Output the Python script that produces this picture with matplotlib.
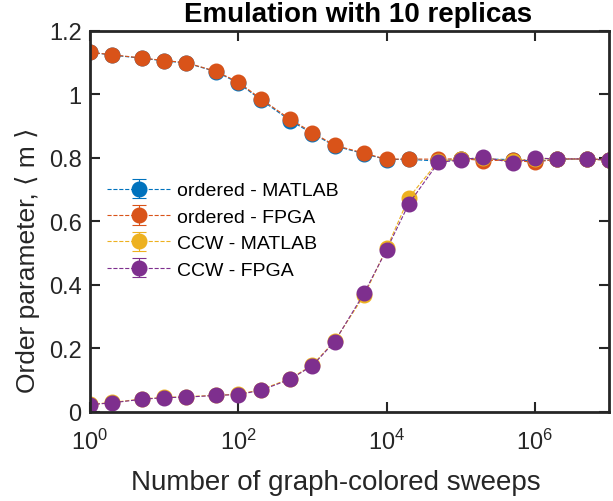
import numpy as np
import matplotlib.pyplot as plt

plt.rcParams['font.family'] = ['Liberation Sans', 'DejaVu Sans']

# numero de barridos
sweeps = [1, 2, 5, 10, 20, 50, 100, 200, 500, 1e3, 2e3, 5e3, 1e4, 2e4,
          5e4, 1e5, 2e5, 5e5, 1e6, 2e6, 5e6, 1e7]

ord_matlab = [1.133, 1.124, 1.114, 1.106, 1.099, 1.072, 1.036, 0.984, 0.918, 0.877, 0.838,
              0.813, 0.795, 0.796, 0.790, 0.797, 0.797, 0.795, 0.790, 0.796, 0.797, 0.794]
ord_fpga = [1.133, 1.125, 1.115, 1.107, 1.100, 1.073, 1.039, 0.987, 0.922, 0.880, 0.840,
            0.815, 0.796, 0.797, 0.796, 0.798, 0.792, 0.793, 0.786, 0.797, 0.797, 0.795]
ccw_matlab = [0.024, 0.030, 0.041, 0.046, 0.048, 0.053, 0.056, 0.070, 0.105, 0.148, 0.224,
              0.368, 0.515, 0.675, 0.790, 0.796, 0.800, 0.790, 0.798, 0.797, 0.796, 0.793]
ccw_fpga = [0.023, 0.029, 0.040, 0.045, 0.047, 0.052, 0.055, 0.068, 0.103, 0.146, 0.222,
            0.375, 0.511, 0.656, 0.786, 0.794, 0.803, 0.785, 0.800, 0.797, 0.797, 0.793]

err_ord = [0.004]*len(sweeps)
err_ccw = [0.006]*len(sweeps)

series = [
    (ord_matlab, err_ord, '#0072BD', 'ordered - MATLAB'),
    (ord_fpga, err_ord, '#D95319', 'ordered - FPGA'),
    (ccw_matlab, err_ccw, '#EDB120', 'CCW - MATLAB'),
    (ccw_fpga, err_ccw, '#7E2F8E', 'CCW - FPGA'),
]

fig = plt.figure(figsize=(6.13, 5.02), dpi=100)
ax = fig.add_axes([0.1468, 0.1773, 0.8467, 0.759])

for y, e, c, lab in series:
    ax.errorbar(sweeps, y, yerr=e, fmt='o--', color=c, markersize=10.5,
                linewidth=0.8, elinewidth=0.8, capsize=5, capthick=0.8,
                markeredgecolor=c, label=lab)

ax.set_xscale('log')
ax.set_xlim(1, 1e7)
ax.set_ylim(0, 1.2)
ax.set_xticks([1, 1e2, 1e4, 1e6])
ax.set_yticks([0, 0.2, 0.4, 0.6, 0.8, 1.0, 1.2])
ax.set_yticklabels(['0', '0.2', '0.4', '0.6', '0.8', '1', '1.2'])

for s in ax.spines.values():
    s.set_linewidth(2)
    s.set_color('#262626')
ax.tick_params(which='both', direction='in', top=True, right=True,
               colors='#262626', labelsize=17, width=1.5)
ax.tick_params(which='major', length=7)
ax.tick_params(which='minor', length=4)
ax.tick_params(axis='x', pad=12)
ax.tick_params(axis='y', pad=6)

ax.set_xlabel('Number of graph-colored sweeps', fontsize=20, color='#262626')
ax.xaxis.set_label_coords(0.474, -0.149)
ax.set_ylabel('Order parameter, \u27e8 m \u27e9', fontsize=19, color='#262626',
              family=['Liberation Sans', 'DejaVu Sans'])
ax.yaxis.set_label_coords(-0.097, 0.40)
ax.set_title('Emulation with 10 replicas', fontsize=20, fontweight='bold',
             x=0.517, pad=7)

ax.legend(loc='upper left', bbox_to_anchor=(0.0, 0.65), frameon=False,
          fontsize=14, handlelength=3.2, handletextpad=0.4, labelspacing=0.45)

fig.savefig('out.png', dpi=100)
